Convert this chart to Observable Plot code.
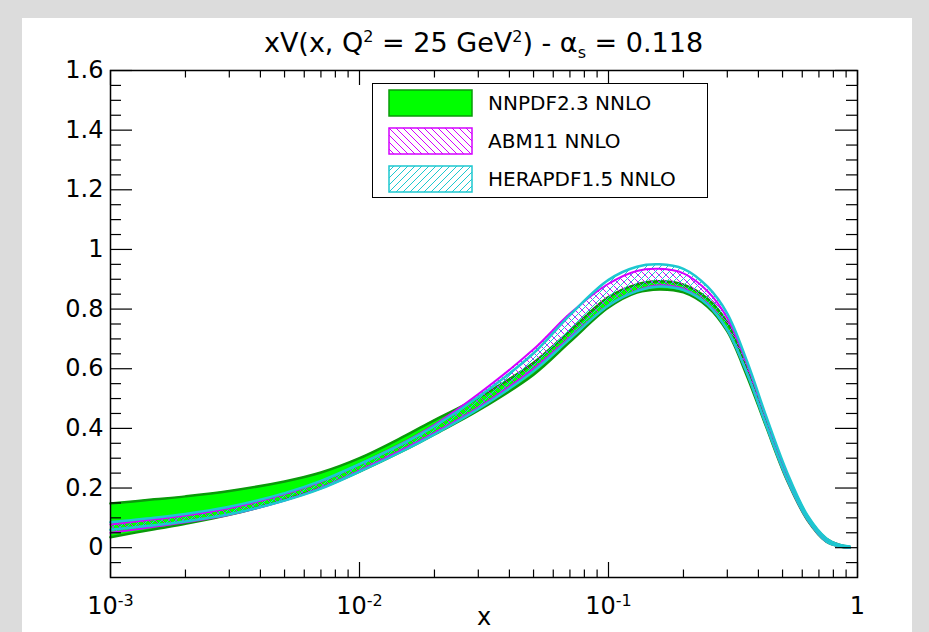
<!DOCTYPE html>
<html>
<head>
<meta charset="utf-8">
<script src="https://cdn.jsdelivr.net/npm/d3@7"></script>
<script src="https://cdn.jsdelivr.net/npm/@observablehq/plot@0.6"></script>
<style>
  body { margin:0; width:929px; height:632px; overflow:hidden; position:relative;
         background:#dcdcdc; font-family:"DejaVu Sans", sans-serif; }
  #panel { position:absolute; left:22px; top:18px; width:890px; height:614px; background:#fff; }
  #title { position:absolute; left:0; top:2px; width:923px; text-align:center; font-size:27px; line-height:34px; color:#000; }
  #title sup, #title sub { font-size:16px; }
  #title sup { vertical-align: 10px; }
  #title sub { vertical-align: -6px; }
  #chart { position:absolute; left:0; top:40px; }
  #legend { position:absolute; left:350px; top:65px; width:334px; height:113px; border:1.5px solid #000; background:#fff; }
  .row { position:absolute; left:0; height:28px; width:334px; }
  .row svg { position:absolute; left:15px; top:0; }
  .row span { position:absolute; left:115px; top:1px; font-size:20px; line-height:26px; color:#000; }
</style>
</head>
<body>
<svg width="0" height="0" style="position:absolute">
  <defs>
    <pattern id="hatchABM" patternUnits="userSpaceOnUse" width="7" height="7">
      <path d="M0,0 L7,7 M-2,5 L2,9 M5,-2 L9,2" stroke="#d400ff" stroke-width="1"/>
    </pattern>
    <pattern id="hatchHERA" patternUnits="userSpaceOnUse" width="7" height="7">
      <path d="M0,7 L7,0 M-2,2 L2,-2 M5,9 L9,5" stroke="#1cc8d0" stroke-width="1"/>
    </pattern>
  </defs>
</svg>
<div id="panel">
  <div id="title">xV(x, Q<sup>2</sup> = 25 GeV<sup>2</sup>) - α<sub>s</sub> = 0.118</div>
  <div id="chart"></div>
  <div id="legend"></div>
</div>
<script>
// ---- data ----
const xValues = [0.001, 0.0015, 0.002, 0.003, 0.005, 0.007, 0.01, 0.015, 0.02, 0.03, 0.05, 0.07, 0.1, 0.13, 0.16, 0.2, 0.25, 0.3, 0.36, 0.43, 0.52, 0.63, 0.75, 0.85, 0.93];

const nnpdfLow  = [0.035, 0.062, 0.080, 0.110, 0.160, 0.200, 0.255, 0.325, 0.380, 0.460, 0.580, 0.690, 0.805, 0.855, 0.866, 0.856, 0.808, 0.725, 0.575, 0.405, 0.228, 0.092, 0.020, 0.004, 0.000];
const nnpdfHigh = [0.148, 0.162, 0.172, 0.190, 0.222, 0.252, 0.300, 0.372, 0.428, 0.503, 0.620, 0.727, 0.840, 0.883, 0.893, 0.882, 0.835, 0.755, 0.605, 0.430, 0.248, 0.104, 0.030, 0.009, 0.003];

const abmLow    = [0.050, 0.070, 0.085, 0.110, 0.158, 0.200, 0.258, 0.330, 0.385, 0.470, 0.600, 0.705, 0.812, 0.862, 0.880, 0.868, 0.815, 0.730, 0.585, 0.410, 0.230, 0.093, 0.020, 0.004, 0.000];
const abmHigh   = [0.078, 0.095, 0.108, 0.132, 0.180, 0.222, 0.280, 0.352, 0.412, 0.515, 0.665, 0.785, 0.885, 0.928, 0.935, 0.920, 0.860, 0.770, 0.615, 0.435, 0.250, 0.105, 0.030, 0.009, 0.003];

const heraLow   = [0.060, 0.075, 0.088, 0.112, 0.158, 0.198, 0.255, 0.325, 0.380, 0.465, 0.592, 0.700, 0.812, 0.860, 0.876, 0.864, 0.815, 0.730, 0.585, 0.410, 0.232, 0.095, 0.021, 0.004, 0.000];
const heraHigh  = [0.085, 0.100, 0.113, 0.137, 0.183, 0.224, 0.280, 0.350, 0.407, 0.505, 0.652, 0.780, 0.898, 0.942, 0.950, 0.935, 0.875, 0.785, 0.625, 0.440, 0.255, 0.108, 0.031, 0.009, 0.004];

const seriesNames = ["NNPDF2.3 NNLO", "ABM11 NNLO", "HERAPDF1.5 NNLO"];

const yTicks = [0, 0.2, 0.4, 0.6, 0.8, 1, 1.2, 1.4, 1.6];
const yTickLabels = ["0", "0.2", "0.4", "0.6", "0.8", "1", "1.2", "1.4", "1.6"];
const xTicks = [0.001, 0.01, 0.1, 1];
const xTickBase = ["10", "10", "10", "1"];
const xTickExp = ["-3", "-2", "-1", ""];
const xLabel = "x";

// ---- build ----
const band = (lo, hi) => xValues.map((x, i) => ({x, lo: lo[i], hi: hi[i]}));
const nn = band(nnpdfLow, nnpdfHigh);
const abm = band(abmLow, abmHigh);
const hera = band(heraLow, heraHigh);

const W = 890, H = 574, mL = 88, mR = 55, mT = 12, mB = 55;
const fw = W - mL - mR, fh = H - mT - mB;

const yMinor = d3.range(-0.05, 1.6, 0.05).map(v => +v.toFixed(2)).filter(v => !yTicks.some(t => Math.abs(t - v) < 1e-9));
const xMinor = [];
[0.001, 0.01, 0.1].forEach(dec => { for (let k = 2; k <= 9; k++) xMinor.push(+(dec * k).toPrecision(3)); });

const curve = "catmull-rom";
const cGreen = "#00ff00", cGreenDark = "#0a9a0a", cMag = "#d400ff", cCyan = "#1cc8d0";

const tickStyle = {stroke: "#000", strokeWidth: 1.2};

const chart = Plot.plot({
  width: W, height: H,
  marginLeft: mL, marginRight: mR, marginTop: mT, marginBottom: mB,
  x: {type: "log", domain: [1e-3, 1], label: null},
  y: {domain: [-0.1, 1.6], label: null},
  style: {fontFamily: "DejaVu Sans", fontSize: "24px", color: "#000", background: "transparent", overflow: "visible"},
  marks: [
    Plot.areaY(nn, {x: "x", y1: "lo", y2: "hi", fill: cGreen, curve}),
    Plot.lineY(nn, {x: "x", y: "lo", stroke: cGreenDark, strokeWidth: 2.5, curve}),
    Plot.lineY(nn, {x: "x", y: "hi", stroke: cGreenDark, strokeWidth: 2.5, curve}),
    Plot.areaY(abm, {x: "x", y1: "lo", y2: "hi", fill: "url(#hatchABM)", curve}),
    Plot.areaY(hera, {x: "x", y1: "lo", y2: "hi", fill: "url(#hatchHERA)", curve}),
    Plot.lineY(abm, {x: "x", y: "lo", stroke: cMag, strokeWidth: 2, curve}),
    Plot.lineY(abm, {x: "x", y: "hi", stroke: cMag, strokeWidth: 2, curve}),
    Plot.lineY(hera, {x: "x", y: "lo", stroke: cCyan, strokeWidth: 2.5, curve}),
    Plot.lineY(hera, {x: "x", y: "hi", stroke: cCyan, strokeWidth: 2.5, curve}),
    // inward ticks, left/right
    Plot.tickY(yTicks, {y: d => d, insetRight: fw - 22, ...tickStyle}),
    Plot.tickY(yMinor, {y: d => d, insetRight: fw - 11, ...tickStyle}),
    Plot.tickY(yTicks, {y: d => d, insetLeft: fw - 22, ...tickStyle}),
    Plot.tickY(yMinor, {y: d => d, insetLeft: fw - 11, ...tickStyle}),
    // inward ticks, bottom/top
    Plot.tickX(xTicks, {x: d => d, insetTop: fh - 15, ...tickStyle}),
    Plot.tickX(xMinor, {x: d => d, insetTop: fh - 7.5, ...tickStyle}),
    Plot.tickX(xTicks, {x: d => d, insetBottom: fh - 15, ...tickStyle}),
    Plot.tickX(xMinor, {x: d => d, insetBottom: fh - 7.5, ...tickStyle}),
    Plot.frame({stroke: "#000", strokeWidth: 1.5}),
    Plot.axisY(yTicks, {anchor: "left", tickSize: 0, tickPadding: 7, label: null,
      tickFormat: d => yTickLabels[yTicks.indexOf(d)], fontSize: 24}),
    Plot.axisX(xTicks, {anchor: "bottom", tickSize: 0, tickPadding: 19, label: null,
      tickFormat: d => { const i = xTicks.indexOf(d); return xTickExp[i] ? xTickBase[i] + "^" + xTickExp[i] : xTickBase[i]; },
      fontSize: 24}),
    Plot.text([xLabel], {text: d => d, frameAnchor: "bottom", dy: 40, fontSize: 24, lineAnchor: "middle"})
  ]
});

// render exponents of the x tick labels as real superscripts
d3.select(chart).selectAll("g[aria-label='x-axis tick label'] text").each(function() {
  const t = this.textContent;
  const k = t.indexOf("^");
  if (k < 0) return;
  const base = t.slice(0, k), exp = t.slice(k + 1);
  const sel = d3.select(this);
  sel.text(null);
  sel.append("tspan").text(base);
  sel.append("tspan").attr("dy", "-0.5em").attr("font-size", 16).text(exp);
});
document.getElementById("chart").appendChild(chart);

// ---- legend ----
const legend = document.getElementById("legend");
const legendFills = [
  {fill: cGreen, stroke: cGreenDark},
  {fill: "url(#hatchABM)", stroke: cMag},
  {fill: "url(#hatchHERA)", stroke: cCyan}
];
const rowTops = [5, 43, 81];
seriesNames.forEach((name, i) => {
  const row = document.createElement("div");
  row.className = "row";
  row.style.top = rowTops[i] + "px";
  row.innerHTML = `<svg width="86" height="29"><rect x="1" y="1" width="83" height="26" fill="${legendFills[i].fill}" stroke="${legendFills[i].stroke}" stroke-width="1.5"/></svg><span>${name}</span>`;
  legend.appendChild(row);
});
</script>
</body>
</html>
